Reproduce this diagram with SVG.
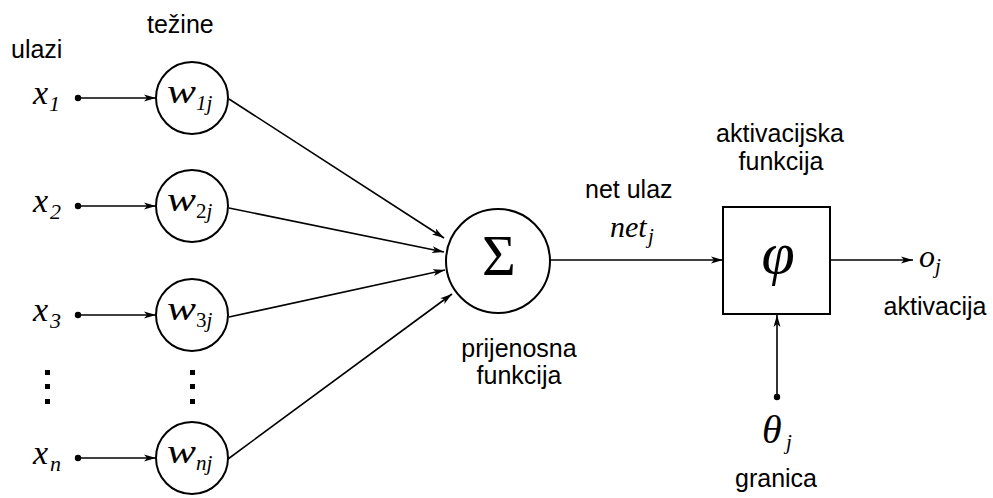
<svg xmlns="http://www.w3.org/2000/svg" width="993" height="498" viewBox="0 0 993 498">
<defs>
<marker id="ah" viewBox="0 0 12 8" markerWidth="12" markerHeight="8" refX="12" refY="4" orient="auto" markerUnits="userSpaceOnUse">
<path d="M0,0.5 L12,4 L0,7.5 L3,4 Z" fill="#000"/>
</marker>
<style>
.lbl{font-family:"Liberation Sans",Arial,sans-serif;font-size:25px;fill:#000}
.m{font-family:"Liberation Serif","Times New Roman",serif;font-style:italic;fill:#000}
.mu{font-family:"Liberation Serif","Times New Roman",serif;fill:#000}
.node{fill:#fff;stroke:#000;stroke-width:2}
.edge{stroke:#000;stroke-width:1.6;fill:none;marker-end:url(#ah)}
.dot{fill:#000}
</style>
</defs>
<rect width="993" height="498" fill="#fff"/>

<g id="labels">
<text class="lbl" x="11" y="58">ulazi</text>
<text class="lbl" x="147" y="33">težine</text>
<text class="lbl" x="585" y="198">net ulaz</text>
<text class="lbl" x="519" y="357" text-anchor="middle">prijenosna</text>
<text class="lbl" x="519" y="384" text-anchor="middle">funkcija</text>
<text class="lbl" x="780" y="142" text-anchor="middle">aktivacijska</text>
<text class="lbl" x="781" y="170" text-anchor="middle">funkcija</text>
<text class="lbl" x="935" y="315" text-anchor="middle">aktivacija</text>
<text class="lbl" x="776" y="487" text-anchor="middle">granica</text>
</g>

<g id="connectors">
<line class="edge" x1="78" y1="98" x2="156" y2="98"/>
<line class="edge" x1="78" y1="206" x2="156" y2="206"/>
<line class="edge" x1="78" y1="315" x2="156" y2="315"/>
<line class="edge" x1="78" y1="458" x2="156" y2="458"/>
<line class="edge" x1="229" y1="99" x2="444" y2="238"/>
<line class="edge" x1="229" y1="208" x2="444" y2="252"/>
<line class="edge" x1="229" y1="317" x2="445" y2="270"/>
<line class="edge" x1="228" y1="459" x2="452" y2="294"/>
<line class="edge" x1="550" y1="260" x2="723" y2="260"/>
<line class="edge" x1="830" y1="260" x2="913" y2="260"/>
<line class="edge" x1="777" y1="397" x2="777" y2="315"/>
</g>

<g id="inputs">
<circle class="dot" cx="78" cy="98" r="3.2"/>
<circle class="dot" cx="78" cy="206" r="3.2"/>
<circle class="dot" cx="78" cy="315" r="3.2"/>
<circle class="dot" cx="78" cy="458" r="3.2"/>
<text class="m" x="33" y="104" font-size="34">x</text><text class="m" x="49" y="111" font-size="22">1</text>
<text class="m" x="33" y="212" font-size="34">x</text><text class="m" x="50" y="219" font-size="22" font-style="normal">2</text>
<text class="m" x="33" y="321" font-size="34">x</text><text class="m" x="50" y="328" font-size="22" font-style="normal">3</text>
<text class="m" x="33" y="464" font-size="34">x</text><text class="m" x="50" y="471" font-size="22">n</text>
<rect class="dot" x="45" y="370" width="5" height="5"/>
<rect class="dot" x="45" y="384" width="5" height="5"/>
<rect class="dot" x="45" y="399" width="5" height="5"/>
<rect class="dot" x="190" y="370" width="5" height="5"/>
<rect class="dot" x="190" y="384" width="5" height="5"/>
<rect class="dot" x="190" y="399" width="5" height="5"/>
</g>

<g id="w1">
<circle class="node" cx="192" cy="98" r="36"/>
<text class="m" x="167" y="103" font-size="34" textLength="29" lengthAdjust="spacingAndGlyphs">w</text>
<text class="m" x="196" y="110" font-size="21">1j</text>
</g>
<g id="w2">
<circle class="node" cx="192" cy="206" r="36"/>
<text class="m" x="167" y="211" font-size="34" textLength="29" lengthAdjust="spacingAndGlyphs">w</text>
<text class="m" x="196" y="218" font-size="21"><tspan font-style="normal">2</tspan>j</text>
</g>
<g id="w3">
<circle class="node" cx="192" cy="315" r="36"/>
<text class="m" x="167" y="320" font-size="34" textLength="29" lengthAdjust="spacingAndGlyphs">w</text>
<text class="m" x="196" y="327" font-size="21"><tspan font-style="normal">3</tspan>j</text>
</g>
<g id="wn">
<circle class="node" cx="192" cy="458" r="36"/>
<text class="m" x="167" y="463" font-size="34" textLength="29" lengthAdjust="spacingAndGlyphs">w</text>
<text class="m" x="196" y="470" font-size="21">nj</text>
</g>

<g id="sum">
<circle class="node" cx="498" cy="261" r="52"/>
<text class="mu" x="499" y="275" font-size="58" text-anchor="middle">Σ</text>
</g>
<g id="net">
<text class="m" x="610" y="237" font-size="30">net</text>
<text class="m" x="648" y="243" font-size="21">j</text>
</g>

<g id="activation">
<rect class="node" x="723" y="207" width="107" height="107"/>
<text class="m" x="778" y="273" font-size="60" text-anchor="middle">φ</text>
</g>

<g id="output">
<text class="m" x="919" y="267" font-size="32">o</text>
<text class="m" x="935" y="273" font-size="21">j</text>
</g>

<g id="threshold">
<circle class="dot" cx="777" cy="397" r="3.2"/>
<text class="m" x="762" y="443" font-size="40">θ</text>
<text class="m" x="786" y="449" font-size="21">j</text>
</g>
</svg>
